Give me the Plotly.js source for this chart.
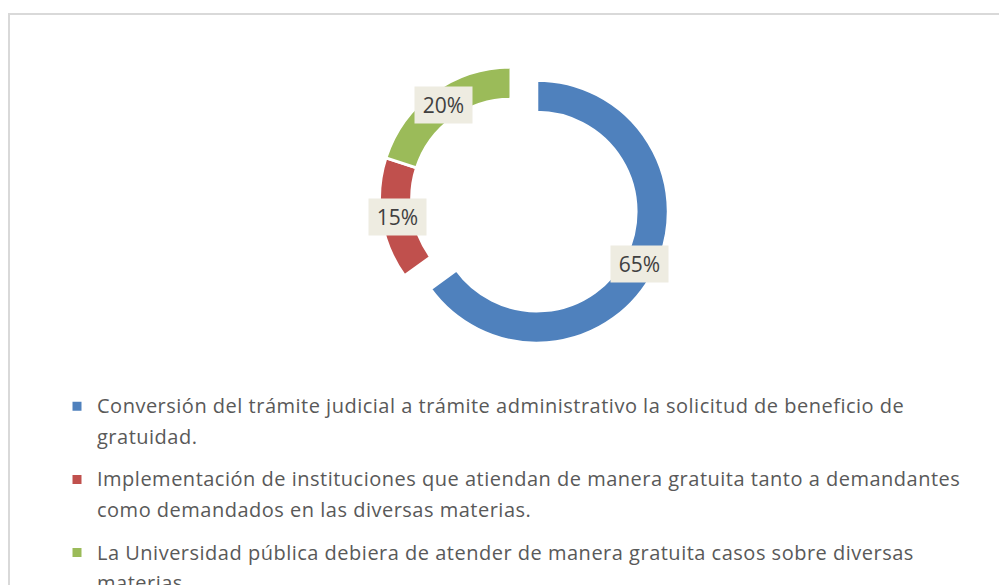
<!DOCTYPE html>
<html><head><meta charset="utf-8">
<script src="https://cdn.plot.ly/plotly-3.0.1.min.js"></script>
<style>html,body{margin:0;padding:0;overflow:hidden;background:#fff}#chart{width:999px;height:640px}</style>
</head><body><div id="chart"></div>
<script>
// ---- data ----
const labels = [
  "Conversión del trámite judicial a trámite administrativo la solicitud de beneficio de gratuidad.",
  "Implementación de instituciones que atiendan de manera gratuita tanto a demandantes como demandados en las diversas materias.",
  "La Universidad pública debiera de atender de manera gratuita casos sobre diversas materias."
];
const values = [65, 15, 20];
const colors = ["#4F81BD", "#C0504D", "#9BBB59"];
const pulls = [0.22, 0, 0];

// ---- layout geometry (pixels) ----
const W = 999, H = 640;
const cx0 = 511, cy0 = 198.5, rOuter = 131.5, hole = 0.755;
const maxPull = Math.max(...pulls);
const R = rOuter * (1 + maxPull);

function wrap(s, maxLen) {
  const words = s.split(' ');
  const lines = []; let cur = '';
  for (const w of words) {
    if (cur && (cur + ' ' + w).length > maxLen) { lines.push(cur); cur = w; }
    else cur = cur ? cur + ' ' + w : w;
  }
  if (cur) lines.push(cur);
  const st = 'font-size:20px;letter-spacing:0.5px';
  return lines.map((l, k) => '<span style="' + st + (k > 0 ? ';baseline-shift:-6.5px' : '') + '">' + l + '</span>').join('<br>') + '<br>\u00a0';
}

const total = values.reduce((a, b) => a + b, 0);
const annotations = [];
let cum = 0;
const labelR = rOuter * (1 + hole) / 2;
values.forEach((v, i) => {
  const mid = (cum + v / 2) / total * 2 * Math.PI;
  cum += v;
  const d = labelR + pulls[i] * rOuter;
  const px = cx0 + d * Math.sin(mid);
  const py = cy0 - d * Math.cos(mid);
  annotations.push({
    xref: 'paper', yref: 'paper', x: px / W, y: 1 - py / H,
    xanchor: 'center', yanchor: 'middle', showarrow: false,
    text: Math.round(v / total * 100) + '%',
    bgcolor: '#EEECE1', width: 57, height: 36, borderpad: 0,
    font: {family: 'Open Sans', size: 21, color: '#404040'}
  });
});

const trace = {
  type: 'pie',
  labels: labels.map(l => wrap(l, 86)),
  values: values,
  marker: {colors: colors, line: {color: '#FFFFFF', width: 3}},
  hole: hole,
  pull: pulls,
  sort: false,
  direction: 'clockwise',
  rotation: 0,
  textinfo: 'none',
  hoverinfo: 'label+percent',
  domain: {x: [(cx0 - R) / W, (cx0 + R) / W], y: [1 - (cy0 + R) / H, 1 - (cy0 - R) / H]}
};

const layout = {
  width: W, height: H,
  margin: {l: 0, r: 0, t: 0, b: 0},
  paper_bgcolor: '#FFFFFF',
  showlegend: true,
  legend: {
    orientation: 'v', x: 57 / W, xanchor: 'left', y: 1 - 388 / H, yanchor: 'top',
    valign: 'top', bgcolor: 'rgba(0,0,0,0)',
    font: {family: 'Open Sans', size: 18, color: '#595959'}
  },
  annotations: annotations,
  shapes: [{
    type: 'rect', xref: 'paper', yref: 'paper',
    x0: 9 / W, x1: 1.05, y0: 1 - 14 / H, y1: -0.05,
    line: {color: '#D9D9D9', width: 2}, fillcolor: 'rgba(0,0,0,0)', layer: 'below'
  }]
};

Plotly.newPlot('chart', [trace], layout, {displayModeBar: false, staticPlot: true});
</script>
</body></html>
